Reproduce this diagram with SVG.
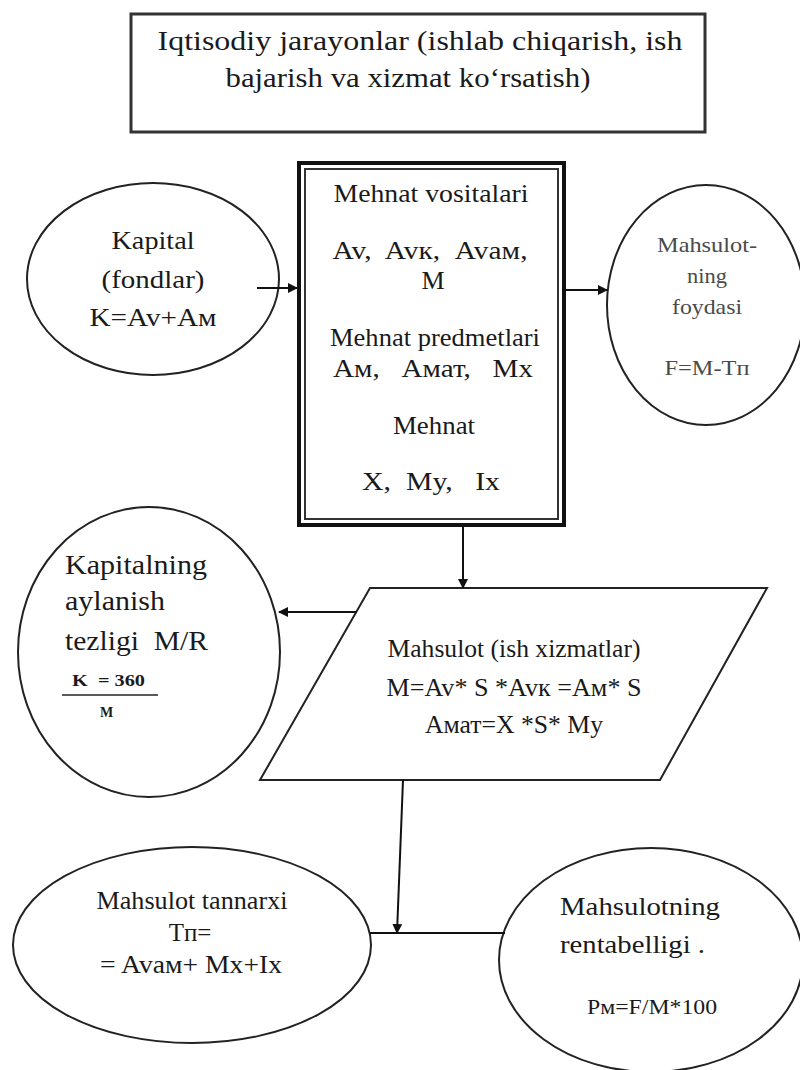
<svg xmlns="http://www.w3.org/2000/svg" width="800" height="1070" viewBox="0 0 800 1070">
<defs>
<style>
text{font-family:"Liberation Serif","Times New Roman",serif;fill:#1a1a1a;white-space:pre}
.c{text-anchor:middle}
.shape{fill:#fff;stroke:#222;stroke-width:2}
.conn{stroke:#111;stroke-width:2;fill:none}
.grey{fill:#4a4a4a}
</style>
<marker id="ah" markerWidth="10" markerHeight="10" refX="9" refY="5" orient="auto" markerUnits="userSpaceOnUse">
<path d="M0,0 L10,5 L0,10 Z" fill="#111"/>
</marker>
</defs>
<rect width="800" height="1070" fill="#fff"/>

<g id="top-box">
<rect x="131" y="14" width="574" height="118" fill="#fff" stroke="#333" stroke-width="3"/>
<text class="c" x="420" y="50" font-size="27" textLength="525" lengthAdjust="spacingAndGlyphs">Iqtisodiy jarayonlar (ishlab chiqarish, ish</text>
<text class="c" x="408" y="87" font-size="27" textLength="365" lengthAdjust="spacingAndGlyphs">bajarish va xizmat ko‘rsatish)</text>
</g>

<g id="center-box">
<rect x="299" y="163" width="265" height="362" fill="#fff" stroke="#111" stroke-width="4"/>
<rect x="305" y="169" width="253" height="350" fill="none" stroke="#333" stroke-width="2"/>
<text class="c" x="431" y="202" font-size="26" textLength="195" lengthAdjust="spacingAndGlyphs">Mehnat vositalari</text>
<text class="c" x="430" y="259" font-size="26" textLength="195" lengthAdjust="spacingAndGlyphs">Av,  Avк,  Avaм,</text>
<text class="c" x="433" y="289" font-size="26">M</text>
<text class="c" x="435" y="346" font-size="26" textLength="210" lengthAdjust="spacingAndGlyphs">Mehnat predmetlari</text>
<text class="c" x="433" y="377" font-size="26" textLength="200" lengthAdjust="spacingAndGlyphs">Aм,   Aмат,   Mx</text>
<text class="c" x="434" y="434" font-size="26" textLength="82" lengthAdjust="spacingAndGlyphs">Mehnat</text>
<text class="c" x="431" y="490" font-size="26" textLength="138" lengthAdjust="spacingAndGlyphs">X,  My,   Ix</text>
</g>

<g id="kapital">
<ellipse class="shape" cx="153" cy="279" rx="126" ry="96"/>
<text class="c" x="153" y="249" font-size="26" textLength="83" lengthAdjust="spacingAndGlyphs">Kapital</text>
<text class="c" x="153" y="288" font-size="26" textLength="103" lengthAdjust="spacingAndGlyphs">(fondlar)</text>
<text class="c" x="153" y="326" font-size="26" textLength="127" lengthAdjust="spacingAndGlyphs">K=Av+Aм</text>
</g>

<g id="foyda">
<ellipse class="shape" cx="706" cy="305" rx="99" ry="120"/>
<text class="c grey" x="707" y="252" font-size="22" textLength="100" lengthAdjust="spacingAndGlyphs">Mahsulot-</text>
<text class="c grey" x="707" y="283" font-size="22" textLength="40" lengthAdjust="spacingAndGlyphs">ning</text>
<text class="c grey" x="707" y="314" font-size="22" textLength="70" lengthAdjust="spacingAndGlyphs">foydasi</text>
<text class="c grey" x="707" y="375" font-size="22" textLength="85" lengthAdjust="spacingAndGlyphs">F=M-Tп</text>
</g>

<g id="mahsulot">
<polygon class="shape" points="370,588 767,588 660,780 260,780"/>
<text class="c" x="514" y="657" font-size="25" textLength="253" lengthAdjust="spacingAndGlyphs">Mahsulot (ish xizmatlar)</text>
<text class="c" x="514" y="696" font-size="25" textLength="255" lengthAdjust="spacingAndGlyphs">M=Av* S *Avк =Aм* S</text>
<text class="c" x="514" y="733" font-size="25" textLength="178" lengthAdjust="spacingAndGlyphs">Aмат=X *S* My</text>
</g>

<g id="aylanish">
<ellipse class="shape" cx="149" cy="652" rx="131" ry="145"/>
<text x="65" y="574" font-size="28" textLength="142" lengthAdjust="spacingAndGlyphs">Kapitalning</text>
<text x="65" y="610" font-size="28" textLength="100" lengthAdjust="spacingAndGlyphs">aylanish</text>
<text x="65" y="650" font-size="28" textLength="143" lengthAdjust="spacingAndGlyphs">tezligi  M/R</text>
<text x="72" y="686" font-size="16" font-weight="bold" textLength="73" lengthAdjust="spacingAndGlyphs">K  = 360</text>
<line x1="62" y1="695" x2="158" y2="695" stroke="#222" stroke-width="1.5"/>
<text x="100" y="717" font-size="14" font-weight="bold">M</text>
</g>

<g id="tannarx">
<ellipse class="shape" cx="192" cy="945" rx="179" ry="98"/>
<text class="c" x="192" y="909" font-size="25" textLength="191" lengthAdjust="spacingAndGlyphs">Mahsulot tannarxi</text>
<text class="c" x="190" y="941" font-size="25">Tп=</text>
<text class="c" x="191" y="973" font-size="25" textLength="182" lengthAdjust="spacingAndGlyphs">= Avaм+ Mx+Ix</text>
</g>

<g id="rentabellik">
<ellipse class="shape" cx="651" cy="960" rx="152" ry="112"/>
<text x="560" y="915" font-size="26" textLength="160" lengthAdjust="spacingAndGlyphs">Mahsulotning</text>
<text x="560" y="953" font-size="26" textLength="145" lengthAdjust="spacingAndGlyphs">rentabelligi .</text>
<text x="587" y="1014" font-size="21" textLength="130" lengthAdjust="spacingAndGlyphs">Pм=F/M*100</text>
</g>

<g id="connectors">
<line class="conn" x1="257" y1="288" x2="297" y2="288" marker-end="url(#ah)"/>
<line class="conn" x1="566" y1="290" x2="607" y2="290" marker-end="url(#ah)"/>
<line class="conn" x1="463" y1="527" x2="463" y2="588" marker-end="url(#ah)"/>
<line class="conn" x1="357" y1="612" x2="279" y2="612" marker-end="url(#ah)"/>
<line class="conn" x1="403" y1="780" x2="397" y2="933" marker-end="url(#ah)"/>
<line class="conn" x1="370" y1="933" x2="505" y2="933"/>
</g>
</svg>
